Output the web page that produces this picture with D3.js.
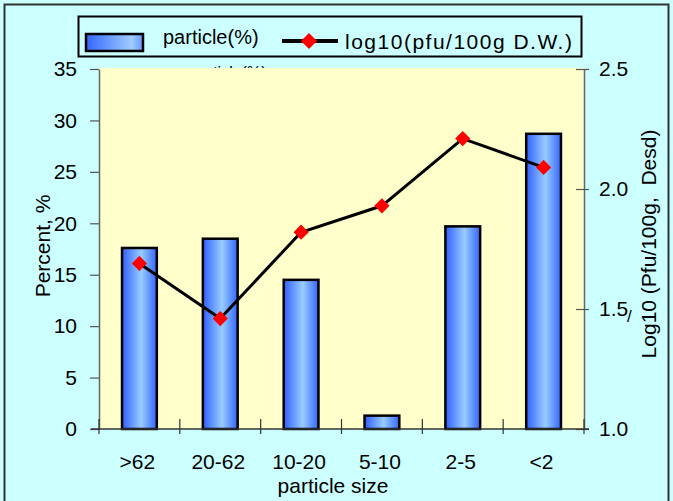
<!DOCTYPE html>
<html>
<head>
<meta charset="utf-8">
<script src="https://cdn.jsdelivr.net/npm/d3@7"></script>
<style>
  body { margin: 0; background: #ffffff; }
  text { font-family: "Liberation Sans", Arial, sans-serif; fill: #000; }
</style>
</head>
<body>
<svg id="chart" width="673" height="501"></svg>
<script>
const categories = [">62", "20-62", "10-20", "5-10", "2-5", "<2"];
const particlePct = [17.6, 18.5, 14.5, 1.3, 19.7, 28.7];
const logPfu = [1.69, 1.46, 1.82, 1.93, 2.21, 2.09];
const leftTicks = [0, 5, 10, 15, 20, 25, 30, 35];
const rightTicks = [1.0, 1.5, 2.0, 2.5];

const svg = d3.select("#chart");
const plot = { left: 99, right: 584, top: 68, bottom: 429 };

// outer background and frame
svg.append("rect")
  .attr("width", 673).attr("height", 501)
  .attr("fill", "#ccffff");
svg.append("rect")
  .attr("x", 4.5).attr("y", 4.5)
  .attr("width", 664).attr("height", 520)
  .attr("fill", "none")
  .attr("stroke", "#333")
  .attr("stroke-width", 2);

const defs = svg.append("defs");
const grad = defs.append("linearGradient").attr("id", "barGrad")
  .attr("x1", "0%").attr("x2", "100%").attr("y1", "0%").attr("y2", "0%");
grad.append("stop").attr("offset", "0%").attr("stop-color", "#2f5fff");
grad.append("stop").attr("offset", "55%").attr("stop-color", "#99ccff");
grad.append("stop").attr("offset", "100%").attr("stop-color", "#3366ff");

const legGrad = defs.append("linearGradient").attr("id", "legGrad")
  .attr("x1", "0%").attr("x2", "100%").attr("y1", "0%").attr("y2", "0%");
legGrad.append("stop").attr("offset", "0%").attr("stop-color", "#3366ff");
legGrad.append("stop").attr("offset", "80%").attr("stop-color", "#a0ccff");
legGrad.append("stop").attr("offset", "100%").attr("stop-color", "#6699ff");

// ghost title, mostly hidden behind the plot area
svg.append("text")
  .attr("x", 190).attr("y", 78)
  .attr("font-size", "16px")
  .text("particle(%)");

// plot area
svg.append("rect")
  .attr("x", plot.left).attr("y", plot.top)
  .attr("width", plot.right - plot.left)
  .attr("height", plot.bottom - plot.top)
  .attr("fill", "#ffffcc");

const x = d3.scaleBand()
  .domain(categories)
  .range([plot.left, plot.right])
  .paddingInner(0.57)
  .paddingOuter(0.285);

const yLeft = d3.scaleLinear().domain([0, 35]).range([plot.bottom, 69]);
const yRight = d3.scaleLinear().domain([1.0, 2.5]).range([plot.bottom, 69]);

const step = x.step();
const boundaries = d3.range(categories.length + 1).map(i => plot.left + i * step);

// bars
svg.append("g")
  .selectAll("rect")
  .data(categories)
  .join("rect")
  .attr("x", d => x(d))
  .attr("y", (d, i) => yLeft(particlePct[i]))
  .attr("width", x.bandwidth())
  .attr("height", (d, i) => plot.bottom - yLeft(particlePct[i]))
  .attr("fill", "url(#barGrad)")
  .attr("stroke", "#000")
  .attr("stroke-width", 2.5);

// left axis
const gLeft = svg.append("g")
  .attr("transform", `translate(${plot.left},0)`)
  .call(d3.axisLeft(yLeft).tickValues(leftTicks).tickSize(9).tickSizeOuter(0).tickPadding(13));
gLeft.select(".domain").attr("stroke", "#666").attr("stroke-width", 1.5);
gLeft.selectAll(".tick line").attr("stroke", "#555").attr("stroke-width", 1.2);
gLeft.selectAll(".tick text")
  .attr("font-size", "21px")
  .attr("font-family", "'Liberation Sans', Arial, sans-serif");

// right axis
const gRight = svg.append("g")
  .attr("transform", `translate(${plot.right},0)`)
  .call(d3.axisRight(yRight).tickValues(rightTicks).tickFormat(d3.format(".1f"))
    .tickSize(5).tickSizeOuter(0).tickPadding(10));
gRight.select(".domain").attr("stroke", "#666").attr("stroke-width", 1.5);
gRight.selectAll(".tick line").attr("x1", -8).attr("stroke", "#555").attr("stroke-width", 1.2);
gRight.selectAll(".tick text")
  .attr("font-size", "21px")
  .attr("font-family", "'Liberation Sans', Arial, sans-serif");

// bottom axis
const gBottom = svg.append("g");
gBottom.append("line")
  .attr("x1", plot.left - 8).attr("x2", plot.right + 5)
  .attr("y1", plot.bottom).attr("y2", plot.bottom)
  .attr("stroke", "#333").attr("stroke-width", 1.5);
gBottom.selectAll(".btick")
  .data(boundaries)
  .join("line")
  .attr("class", "btick")
  .attr("x1", d => d).attr("x2", d => d)
  .attr("y1", plot.bottom - 10).attr("y2", plot.bottom + 5)
  .attr("stroke", "#333").attr("stroke-width", 1.2);
gBottom.selectAll(".blabel")
  .data(categories)
  .join("text")
  .attr("class", "blabel")
  .attr("x", d => x(d) + x.bandwidth() / 2 - 2)
  .attr("y", 469)
  .attr("text-anchor", "middle")
  .attr("font-size", "21px")
  .text(d => d);

// line series
const line = d3.line()
  .x((d, i) => x(categories[i]) + x.bandwidth() / 2)
  .y(d => yRight(d));

svg.append("path")
  .datum(logPfu)
  .attr("d", line)
  .attr("fill", "none")
  .attr("stroke", "#000")
  .attr("stroke-width", 3);

svg.append("g")
  .selectAll("path")
  .data(logPfu)
  .join("path")
  .attr("d", d3.symbol().type(d3.symbolSquare).size(115))
  .attr("transform", (d, i) =>
    `translate(${x(categories[i]) + x.bandwidth() / 2},${yRight(d)}) rotate(45)`)
  .attr("fill", "#ff0000");

// axis titles
svg.append("text")
  .attr("transform", "translate(50,246) rotate(-90)")
  .attr("text-anchor", "middle")
  .attr("font-size", "21px")
  .text("Percent, %");

svg.append("text")
  .attr("transform", "translate(656,244) rotate(-90)")
  .attr("text-anchor", "middle")
  .attr("font-size", "21px")
  .attr("xml:space", "preserve")
  .text("Log10 (Pfu/100g,  Desd)");

svg.append("text")
  .attr("x", 627).attr("y", 322)
  .attr("font-size", "17px")
  .text("/");

svg.append("text")
  .attr("x", 333).attr("y", 493)
  .attr("text-anchor", "middle")
  .attr("font-size", "21px")
  .text("particle size");

// legend
const legend = svg.append("g");
legend.append("rect")
  .attr("x", 78.5).attr("y", 16.5)
  .attr("width", 503).attr("height", 40)
  .attr("fill", "#ccffff")
  .attr("stroke", "#000")
  .attr("stroke-width", 2);
legend.append("rect")
  .attr("x", 86).attr("y", 34)
  .attr("width", 57).attr("height", 17)
  .attr("fill", "url(#legGrad)")
  .attr("stroke", "#000")
  .attr("stroke-width", 2.5);
legend.append("text")
  .attr("x", 163).attr("y", 44)
  .attr("font-size", "20px")
  .text("particle(%)");
legend.append("line")
  .attr("x1", 282).attr("x2", 338)
  .attr("y1", 41).attr("y2", 41)
  .attr("stroke", "#000").attr("stroke-width", 4);
legend.append("path")
  .attr("d", d3.symbol().type(d3.symbolSquare).size(130))
  .attr("transform", "translate(309,41) rotate(45)")
  .attr("fill", "#ff0000");
legend.append("text")
  .attr("x", 345).attr("y", 49)
  .attr("font-size", "21px")
  .attr("letter-spacing", "1.5px")
  .text("log10(pfu/100g D.W.)");
</script>
</body>
</html>
